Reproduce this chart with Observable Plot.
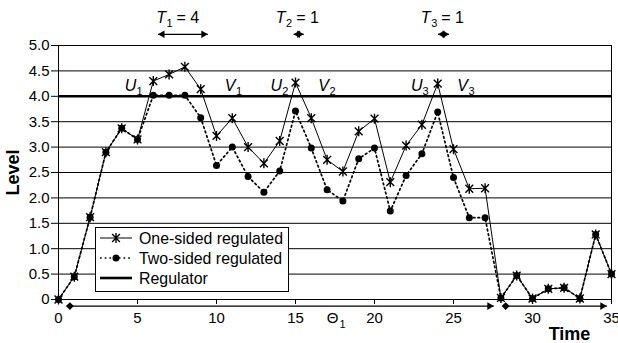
<!DOCTYPE html>
<html><head><meta charset="utf-8">
<script src="https://cdn.jsdelivr.net/npm/d3@7"></script>
<script src="https://cdn.jsdelivr.net/npm/@observablehq/plot@0.6"></script>
<style>
body{margin:0;background:#fff;}
#wrap{position:relative;width:618px;height:343px;font-family:"Liberation Sans",Arial,sans-serif;}
#legend{position:absolute;left:95px;top:227px;}
</style></head><body><div id="wrap"></div>
<script>
// ---- data ----
const time = [0,1,2,3,4,5,6,7,8,9,10,11,12,13,14,15,16,17,18,19,20,21,22,23,24,25,26,27,28,29,30,31,32,33,34,35];
const oneSided = [0,0.45,1.62,2.9,3.37,3.15,4.3,4.43,4.58,4.14,3.22,3.57,3.0,2.68,3.12,4.27,3.57,2.75,2.52,3.31,3.56,2.31,3.03,3.44,4.25,2.96,2.18,2.19,0.03,0.47,0.02,0.21,0.23,0.02,1.28,0.5];
const twoSided = [0,0.45,1.62,2.9,3.37,3.15,4.02,4.02,4.02,3.58,2.64,3.0,2.42,2.11,2.53,3.71,2.98,2.16,1.94,2.77,2.98,1.74,2.44,2.87,3.69,2.4,1.61,1.61,0.03,0.47,0.02,0.21,0.23,0.02,1.28,0.5];
const regulatorLevel = 4;
const xTicks = [0,5,10,15,20,25,30,35];
const yTicks = [0,0.5,1,1.5,2,2.5,3,3.5,4,4.5,5];
const legendItems = ["One-sided regulated","Two-sided regulated","Regulator"];

// annotations (data coordinates)
const intervalNames = ["T","T","T"];
const intervalSubs = ["1","2","3"];
const intervalValues = ["= 4","= 1","= 1"];
const intervalLabelX = [6.49,14.06,23.24];
const intervalStart = [6.3,14.88,24.02];
const intervalEnd = [9.45,15.52,24.72];
const pointNames = ["U","V","U","V","U","V"];
const pointSubs = ["1","1","2","2","3","3"];
const pointLabelX = [4.56,10.86,13.79,16.78,22.67,25.57];
const periodStart = [0.72,28.3];
const periodEnd = [27.55,34.7];
const thetaLabel = {name:"\u0398", sub:"1", x:17.35};
const labelRowY = 4.1, topLabelY = 5.44, topArrowY = 5.22, bottomArrowY = -0.13, thetaY = -0.47;

// ---- build tables ----
const oneRows = time.map((t,i)=>({t, v:oneSided[i]}));
const twoRows = time.map((t,i)=>({t, v:twoSided[i]}));
const intervals = intervalNames.map((n,i)=>({n, s:intervalSubs[i], e:intervalValues[i], x:intervalLabelX[i], x1:intervalStart[i], x2:intervalEnd[i]}));
const points = pointNames.map((n,i)=>({n, s:pointSubs[i], x:pointLabelX[i]}));
const periods = periodStart.map((x1,i)=>({x1, x2:periodEnd[i]}));

const star = {draw(ctx, size){
  const r = Math.sqrt(size/Math.PI), d = r*0.78;
  ctx.moveTo(0,-r); ctx.lineTo(0,r);
  ctx.moveTo(-d,-d); ctx.lineTo(d,d);
  ctx.moveTo(d,-d); ctx.lineTo(-d,d);
}};

const font = '"Liberation Sans",Arial,sans-serif';
const dotted = {stroke:"black", strokeWidth:1.7, strokeDasharray:"1.7,3"};
const chart = Plot.plot({
  width:618, height:343, marginLeft:58, marginRight:7, marginTop:45, marginBottom:44,
  x:{domain:[0,35]}, y:{domain:[0,5]},
  style:{fontFamily:font, fontSize:"15px", color:"black", background:"white", overflow:"visible"},
  marks:[
    Plot.ruleY(yTicks.filter(d=>d!==regulatorLevel), {stroke:"black", strokeWidth:1}),
    Plot.ruleY([regulatorLevel], {stroke:"black", strokeWidth:2.6}),
    Plot.ruleX([0,35], {stroke:"black", strokeWidth:1}),
    Plot.axisY({ticks:yTicks, tickSize:7, tickPadding:2, tickFormat:d=>d===0?"0":d.toFixed(1), label:null, fontSize:15}),
    Plot.axisX({ticks:xTicks, tickSize:5, tickPadding:8, label:null, fontSize:15}),
    Plot.line(twoRows, {x:"t", y:"v", ...dotted}),
    Plot.dot(twoRows, {x:"t", y:"v", r:3.5, fill:"black"}),
    Plot.line(oneRows, {x:"t", y:"v", stroke:"black", strokeWidth:1}),
    Plot.dot(oneRows, {x:"t", y:"v", r:5, symbol:star, stroke:"black", fill:"none", strokeWidth:1.4}),
    // U/V labels
    Plot.text(points, {x:"x", y:()=>labelRowY, text:"n", fontStyle:"italic", fontSize:16, lineAnchor:"bottom"}),
    Plot.text(points, {x:"x", y:()=>labelRowY, text:"s", fontSize:11, lineAnchor:"bottom", dx:9, dy:4}),
    // T labels
    Plot.text(intervals, {x:"x", y:()=>topLabelY, text:"n", fontStyle:"italic", fontSize:16, lineAnchor:"bottom"}),
    Plot.text(intervals, {x:"x", y:()=>topLabelY, text:"s", fontSize:11, lineAnchor:"bottom", dx:8.5, dy:4}),
    Plot.text(intervals, {x:"x", y:()=>topLabelY, text:"e", fontSize:16, lineAnchor:"bottom", textAnchor:"start", dx:15.5}),
    // T arrows
    Plot.link(intervals, {x1:"x1", x2:"x2", y1:()=>topArrowY, y2:()=>topArrowY, stroke:"black", strokeWidth:1.3}),
    Plot.dot(intervals, {x:"x1", y:()=>topArrowY, symbol:"triangle", rotate:-90, r:2.8, fill:"black", dx:4.3}),
    Plot.dot(intervals, {x:"x2", y:()=>topArrowY, symbol:"triangle", rotate:90, r:2.8, fill:"black", dx:-4.3}),
    // bottom period arrows
    Plot.link(periods, {x1:"x1", x2:"x2", y1:()=>bottomArrowY, y2:()=>bottomArrowY, stroke:"black", strokeWidth:1.3}),
    Plot.dot(periods, {x:"x1", y:()=>bottomArrowY, symbol:"diamond2", r:2.6, fill:"black", stroke:"black"}),
    Plot.dot(periods, {x:"x2", y:()=>bottomArrowY, symbol:"triangle", rotate:90, r:2.8, fill:"black", dx:-4.3}),
    // Theta label
    Plot.text([thetaLabel], {x:"x", y:()=>thetaY, text:"name", fontSize:15, lineAnchor:"bottom"}),
    Plot.text([thetaLabel], {x:"x", y:()=>thetaY, text:"sub", fontSize:11, lineAnchor:"bottom", dx:10, dy:5}),
    // axis titles
    Plot.text(["Level"], {frameAnchor:"left", text:d=>d, dx:-45, rotate:-90, textAnchor:"middle", lineAnchor:"middle", fontWeight:"bold", fontSize:18}),
    Plot.text(["Time"], {frameAnchor:"bottom-right", text:d=>d, dx:-42, dy:35, textAnchor:"middle", lineAnchor:"middle", fontWeight:"bold", fontSize:18})
  ]
});
const wrap = document.getElementById("wrap");
wrap.appendChild(chart);

// legend overlay
const lg = d3.create("svg").attr("id","legend").attr("width",194).attr("height",65)
  .style("font-family",font).style("font-size","15.9px");
lg.append("rect").attr("x",0.5).attr("y",0.5).attr("width",193).attr("height",64).attr("fill","white").attr("stroke","black");
const rowsY = [11,31,51];
legendItems.forEach((label,i)=>{
  const y = rowsY[i];
  const g = lg.append("g");
  if(i===0){
    g.append("line").attr("x1",5).attr("x2",37).attr("y1",y).attr("y2",y).attr("stroke","black");
    g.append("path").attr("d",d3.symbol(star, Math.PI*25)()).attr("transform",`translate(21,${y})`).attr("stroke","black").attr("fill","none").attr("stroke-width",1.4);
  } else if(i===1){
    g.append("line").attr("x1",5).attr("x2",37).attr("y1",y).attr("y2",y).attr("stroke","black").attr("stroke-width",1.7).attr("stroke-dasharray","1.7,3");
    g.append("circle").attr("cx",21).attr("cy",y).attr("r",3.5).attr("fill","black");
  } else {
    g.append("line").attr("x1",5).attr("x2",37).attr("y1",y).attr("y2",y).attr("stroke","black").attr("stroke-width",2.6);
  }
  g.append("text").attr("x",44).attr("y",y).attr("dy","0.35em").text(label);
});
wrap.appendChild(lg.node());
</script>
</body></html>
